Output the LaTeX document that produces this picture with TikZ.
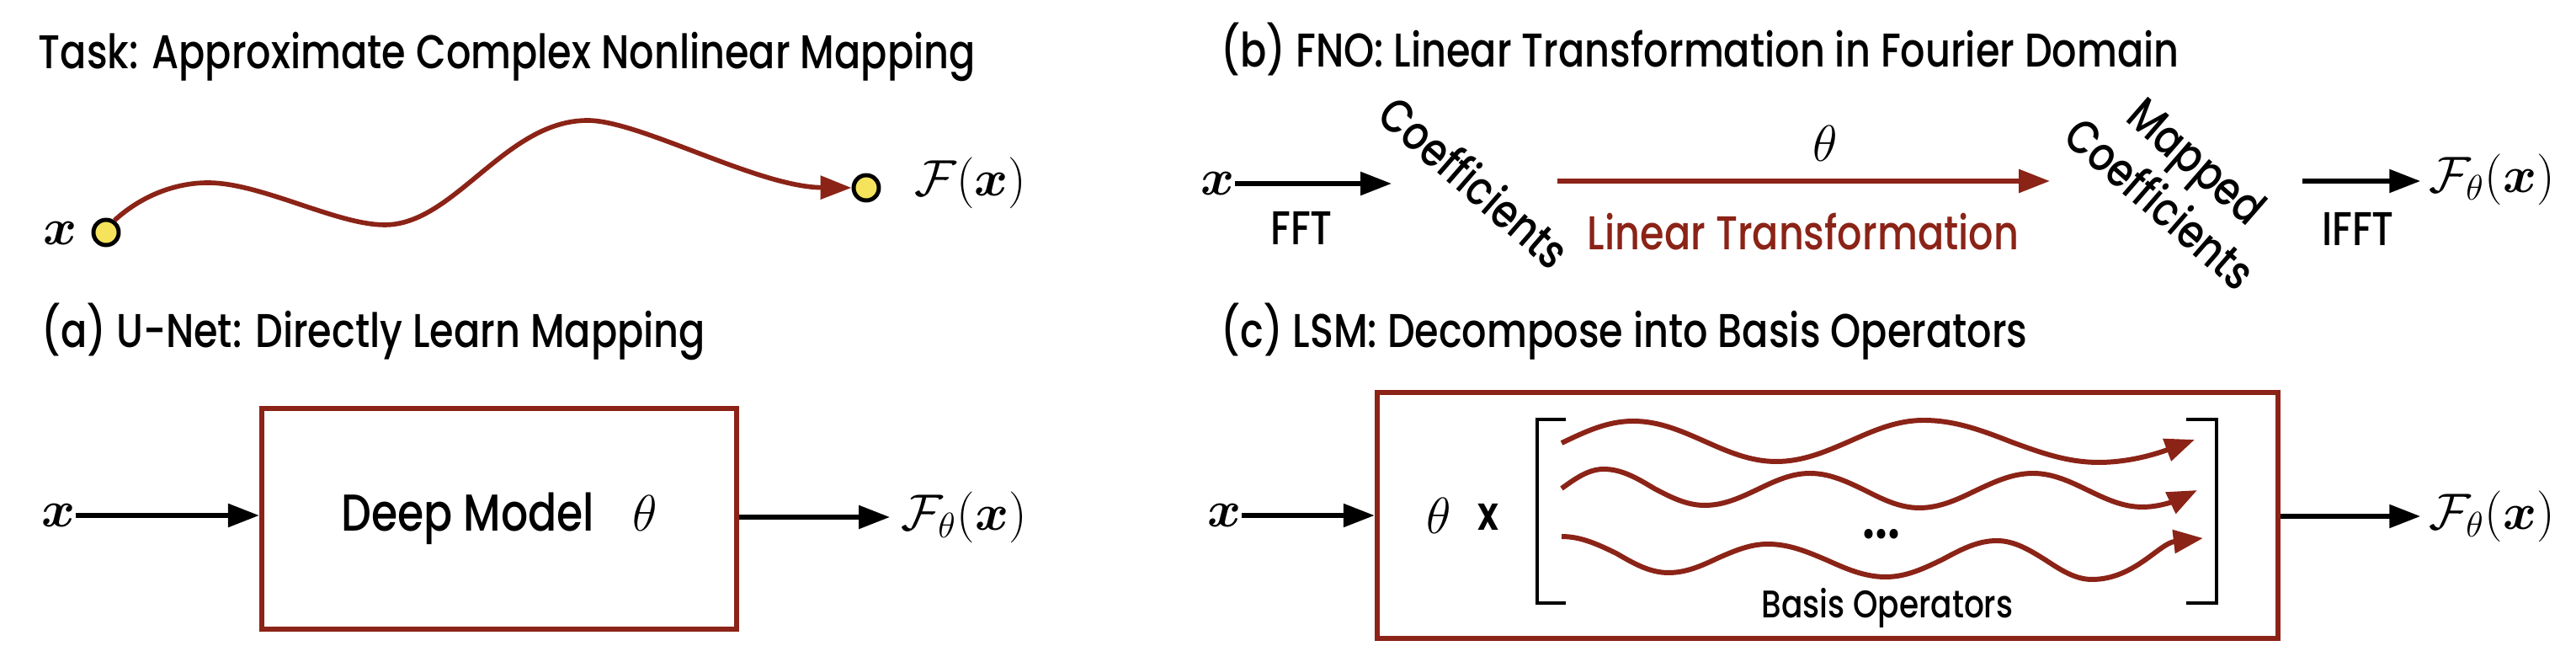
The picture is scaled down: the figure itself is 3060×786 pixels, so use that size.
\documentclass[tikz,border=0pt]{standalone}
\usepackage{fontspec}
\setmainfont{Poppins}[UprightFont=* Medium,BoldFont=* SemiBold,FakeStretch=0.82]
\usepackage{bm}
\usetikzlibrary{arrows.meta}
\definecolor{lsmred}{HTML}{8B2317}
\definecolor{dotyellow}{HTML}{F5E35C}

\begin{document}
\begin{tikzpicture}[x=0.01cm,y=-0.01cm,
  ttl/.style={anchor=base west,inner sep=0pt,font=\fontsize{16}{19}\selectfont},
  txt/.style={inner sep=0pt,font=\fontsize{16}{19}\selectfont},
  mth/.style={inner sep=0pt,font=\fontsize{17}{20}\selectfont},
  arr/.style={-{Triangle[length=10.5pt,width=7.7pt]},line width=1.5pt},
  redarr/.style={arr,draw=lsmred,line width=1.6pt},
  wave/.style={draw=lsmred,line width=1.7pt,-{Triangle[length=10pt,width=7.7pt]}},
  modelbox/.style={draw=lsmred,line width=1.7pt,inner sep=0pt},
  mapdot/.style={circle,draw,fill=dotyellow,line width=1.4pt,minimum size=0.3cm,inner sep=0pt},
  brkt/.style={line width=1.4pt}]
\useasboundingbox (0,0) rectangle (3060,786);

% task
\node[ttl] (ttask) at (45,82) {Task: Approximate Complex Nonlinear Mapping};
\node[mapdot] (xdot) at (126,276) {};
\node[mth,anchor=east] (xt) at (92,277) {$\bm{x}$};
\node[mapdot] (fdot) at (1029,223) {};
\node[mth,anchor=west] (ft) at (1086,217) {$\mathcal{F}(\bm{x})$};
\coordinate (hump) at (247,217);
\coordinate (dip) at (457,267);
\coordinate (top) at (698,143);
\draw[redarr] (xdot.55) .. controls (165,235) and (205,217) .. (hump)
  .. controls (310,217) and (400,267) .. (dip)
  .. controls (540,267) and (600,143) .. (top)
  .. controls (760,143) and (900,222) .. (fdot.west);

% (a) u-net
\node[ttl] (ta) at (49,413) {(a) U-Net: Directly Learn Mapping};
\node[modelbox,minimum width=5.64cm,minimum height=2.62cm,font=\fontsize{17.5}{20}\selectfont] (deep) at (593,616) {Deep Model\hspace{0.45cm}$\theta$};
\node[mth,anchor=east] (xa) at (90,612) {$\bm{x}$};
\draw[arr] (xa.east) -- (xa.east -| deep.west);
\node[mth,anchor=west] (fa) at (1070,614) {$\mathcal{F}_\theta(\bm{x})$};
\draw[arr,shorten >=3.7pt] (deep.east |- fa.west) -- (fa.west);

% (b) fno
\node[ttl] (tb) at (1450,80) {(b) FNO: Linear Transformation in Fourier Domain};
\node[mth,anchor=east] (xb) at (1467,218) {$\bm{x}$};
\coordinate (fftend) at (1653,217);
\draw[arr] (xb.east) -- (xb.east -| fftend);
\node[txt] (fft) at (1546,271) {FFT};
\node[txt,rotate=-41] (coef) at (1752,216) {Coefficients};
\coordinate (lts) at (1850,215);
\coordinate (lte) at (2435,215);
\draw[redarr] (lts) -- (lte);
\node[mth] (thb) at (2168,170) {$\theta$};
\node[txt,text=lsmred] (lin) at (2142,275) {Linear Transformation};
\node[txt,rotate=-41,align=center] (mcoef) at (2588,216) {Mapped\\Coefficients};
\node[txt] (ifft) at (2801,272) {IFFT};
\node[mth,anchor=west] (fb) at (2885,213) {$\mathcal{F}_\theta(\bm{x})$};
\coordinate (ifs) at (2735,215);
\draw[arr,shorten >=2.8pt] (ifs) -- (ifs -| fb.west);

% (c) lsm
\node[ttl] (tc) at (1450,413) {(c) LSM: Decompose into Basis Operators};
\node[modelbox,minimum width=10.7cm,minimum height=2.92cm] (lsm) at (2171,612) {};
\node[mth,anchor=east] (xc) at (1475,612) {$\bm{x}$};
\draw[arr] (xc.east) -- (xc.east -| lsm.west);
\node[mth] (thc) at (1709,612) {$\theta$};
\node[txt,font=\fontsize{16}{19}\bfseries] (times) at (1768,614) {x};
\draw[brkt] (1860,498) -- (1826,498) -- (1826,716) -- (1860,716);
\draw[brkt] (2597,498) -- (2633,498) -- (2633,716) -- (2597,716);
\draw[wave] (1855,526) sin (1940,500) cos (2025,524) sin (2110,548) cos (2197,524) sin (2285,499) cos (2390,525) sin (2493,549) cos (2607,522);
\draw[wave] (1855,580) sin (1905,557) cos (1965,580) sin (2025,600) cos (2088,581) sin (2150,562) cos (2215,582) sin (2280,603) cos (2348,582) sin (2415,562) cos (2480,582) sin (2545,602) cos (2610,582);
\draw[wave] (1855,637) cos (1920,657) sin (1982,680) cos (2042,662) sin (2100,646) cos (2170,665) sin (2240,685) cos (2308,664) sin (2372,642) cos (2430,665) sin (2485,688) .. controls (2535,688) and (2565,645) .. (2617,639);
\node[txt,font=\fontsize{20}{22}\bfseries] (dots) at (2235,634) {...};
\node[txt,font=\fontsize{13}{15}\selectfont] (basis) at (2242,722) {Basis Operators};
\node[mth,anchor=west] (fc) at (2885,613) {$\mathcal{F}_\theta(\bm{x})$};
\draw[arr,shorten >=2.8pt] (lsm.east |- fc.west) -- (fc.west);
\end{tikzpicture}
\end{document}
